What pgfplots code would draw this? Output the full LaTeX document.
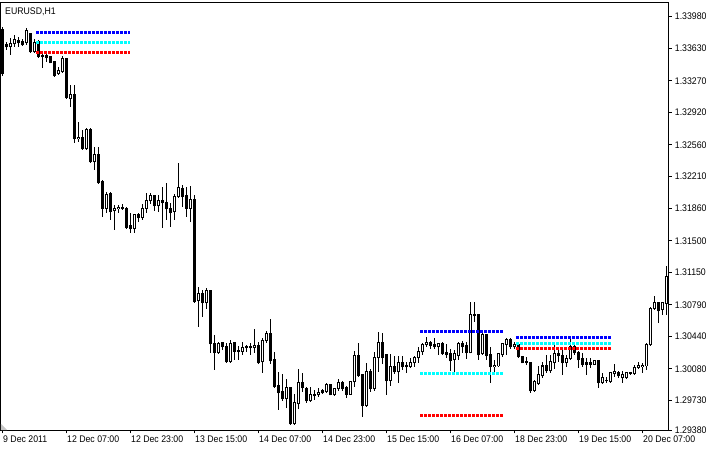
\documentclass[border=0pt]{standalone}
\usepackage{fontspec}
\setmainfont{Liberation Sans}[FakeStretch=0.91]
\usepackage{pgfplots}
\usepackage{pgfplotstable}
\pgfplotsset{compat=1.18}

% EURUSD H1 bars: index, open, high, low, close
\pgfplotstableread{
i o h l c
0 1.33833 1.33866 1.33324 1.33346
1 1.33667 1.33700 1.33612 1.33645
2 1.33645 1.33744 1.33556 1.33678
3 1.33678 1.33778 1.33645 1.33722
4 1.33711 1.33755 1.33645 1.33689
5 1.33700 1.33733 1.33656 1.33667
6 1.33689 1.33855 1.33667 1.33822
7 1.33789 1.33800 1.33578 1.33589
8 1.33589 1.33733 1.33578 1.33689
9 1.33700 1.33722 1.33528 1.33534
10 1.33545 1.33578 1.33412 1.33534
11 1.33545 1.33567 1.33479 1.33528
12 1.33534 1.33540 1.33462 1.33468
13 1.33479 1.33490 1.33313 1.33324
14 1.33346 1.33423 1.33335 1.33379
15 1.33368 1.33545 1.33357 1.33512
16 1.33512 1.33523 1.33069 1.33080
17 1.33069 1.33224 1.32981 1.33113
18 1.33113 1.33224 1.32582 1.32626
19 1.32626 1.32815 1.32593 1.32648
20 1.32648 1.32726 1.32505 1.32516
21 1.32516 1.32748 1.32505 1.32726
22 1.32726 1.32748 1.32361 1.32372
23 1.32372 1.32538 1.32283 1.32449
24 1.32449 1.32538 1.32128 1.32139
25 1.32150 1.32172 1.31763 1.31862
26 1.31862 1.32040 1.31807 1.32017
27 1.32028 1.32040 1.31730 1.31818
28 1.31829 1.31896 1.31619 1.31862
29 1.31851 1.31896 1.31807 1.31873
30 1.31873 1.31907 1.31840 1.31851
31 1.31862 1.31873 1.31630 1.31641
32 1.31663 1.31807 1.31586 1.31630
33 1.31630 1.31796 1.31586 1.31785
34 1.31785 1.31807 1.31707 1.31752
35 1.31752 1.31907 1.31730 1.31862
36 1.31862 1.32028 1.31807 1.31940
37 1.31940 1.32028 1.31907 1.31995
38 1.31995 1.32006 1.31829 1.31885
39 1.31885 1.32006 1.31818 1.31940
40 1.31940 1.32095 1.31641 1.31918
41 1.31918 1.32139 1.31730 1.31851
42 1.31851 1.31918 1.31652 1.31807
43 1.31818 1.32017 1.31730 1.31984
44 1.31984 1.32361 1.31973 1.32084
45 1.32073 1.32117 1.31873 1.31984
46 1.31995 1.32095 1.31763 1.31862
47 1.31862 1.32106 1.31707 1.31951
48 1.31951 1.32006 1.30811 1.30822
49 1.30833 1.30988 1.30545 1.30921
50 1.30921 1.30955 1.30656 1.30811
51 1.30811 1.30977 1.30744 1.30944
52 1.30944 1.30955 1.30257 1.30357
53 1.30357 1.30457 1.30069 1.30257
54 1.30257 1.30379 1.30246 1.30357
55 1.30368 1.30379 1.30290 1.30324
56 1.30324 1.30368 1.30147 1.30158
57 1.30158 1.30401 1.30147 1.30357
58 1.30368 1.30379 1.30180 1.30279
59 1.30279 1.30335 1.30180 1.30290
60 1.30279 1.30379 1.30235 1.30313
61 1.30313 1.30346 1.30268 1.30324
62 1.30324 1.30368 1.30235 1.30313
63 1.30313 1.30523 1.30257 1.30335
64 1.30335 1.30379 1.30135 1.30147
65 1.30158 1.30423 1.30036 1.30390
66 1.30390 1.30501 1.30368 1.30468
67 1.30468 1.30634 1.30135 1.30169
68 1.30180 1.30268 1.29870 1.29881
69 1.29892 1.30047 1.29626 1.29815
70 1.29826 1.30025 1.29726 1.29748
71 1.29748 1.29969 1.29648 1.29870
72 1.29870 1.29881 1.29460 1.29471
73 1.29471 1.29803 1.29460 1.29704
74 1.29693 1.30080 1.29637 1.29925
75 1.29925 1.30036 1.29826 1.29870
76 1.29859 1.29881 1.29704 1.29726
77 1.29726 1.29881 1.29715 1.29792
78 1.29781 1.29848 1.29737 1.29792
79 1.29792 1.29870 1.29770 1.29815
80 1.29837 1.29859 1.29803 1.29815
81 1.29826 1.29925 1.29815 1.29903
82 1.29903 1.29908 1.29787 1.29792
83 1.29792 1.29870 1.29781 1.29859
84 1.29859 1.29969 1.29837 1.29925
85 1.29925 1.29947 1.29837 1.29859
86 1.29870 1.29892 1.29759 1.29803
87 1.29803 1.29947 1.29792 1.29936
88 1.29936 1.30279 1.29881 1.30224
89 1.30224 1.30368 1.29992 1.30003
90 1.30014 1.30025 1.29549 1.29671
91 1.29671 1.30147 1.29660 1.30047
92 1.30047 1.30080 1.29826 1.29859
93 1.29859 1.30268 1.29837 1.30202
94 1.30202 1.30490 1.30047 1.30368
95 1.30368 1.30479 1.30135 1.30202
96 1.30235 1.30241 1.29792 1.29947
97 1.29947 1.30246 1.29892 1.30102
98 1.30102 1.30224 1.30025 1.30047
99 1.30047 1.30224 1.29925 1.30147
100 1.30147 1.30224 1.30069 1.30102
101 1.30102 1.30158 1.30036 1.30113
102 1.30102 1.30202 1.30091 1.30147
103 1.30147 1.30224 1.30102 1.30202
104 1.30202 1.30324 1.30147 1.30279
105 1.30268 1.30368 1.30235 1.30346
106 1.30346 1.30434 1.30324 1.30368
107 1.30368 1.30390 1.30302 1.30335
108 1.30346 1.30423 1.30302 1.30324
109 1.30324 1.30368 1.30235 1.30357
110 1.30357 1.30379 1.30235 1.30246
111 1.30257 1.30357 1.30202 1.30235
112 1.30246 1.30302 1.30058 1.30169
113 1.30180 1.30290 1.30047 1.30246
114 1.30224 1.30379 1.30180 1.30357
115 1.30357 1.30390 1.30257 1.30324
116 1.30335 1.30379 1.30191 1.30257
117 1.30257 1.30822 1.30252 1.30678
118 1.30678 1.30822 1.30601 1.30667
119 1.30678 1.30689 1.30180 1.30235
120 1.30246 1.30479 1.30235 1.30457
121 1.30457 1.30468 1.30180 1.30224
122 1.30235 1.30324 1.29925 1.30102
123 1.30102 1.30180 1.30047 1.30124
124 1.30113 1.30257 1.30102 1.30246
125 1.30235 1.30368 1.30213 1.30357
126 1.30346 1.30423 1.30235 1.30401
127 1.30401 1.30423 1.30302 1.30324
128 1.30324 1.30379 1.30302 1.30346
129 1.30346 1.30368 1.30202 1.30213
130 1.30213 1.30224 1.30141 1.30147
131 1.30158 1.30213 1.30124 1.30147
132 1.30147 1.30158 1.29815 1.29837
133 1.29837 1.29958 1.29826 1.29936
134 1.29914 1.30113 1.29903 1.30014
135 1.30003 1.30158 1.29981 1.30113
136 1.30113 1.30235 1.30036 1.30058
137 1.30058 1.30235 1.30036 1.30158
138 1.30147 1.30346 1.30080 1.30246
139 1.30246 1.30290 1.30158 1.30224
140 1.30224 1.30324 1.30014 1.30147
141 1.30147 1.30235 1.30102 1.30191
142 1.30191 1.30423 1.30180 1.30324
143 1.30324 1.30346 1.30235 1.30257
144 1.30257 1.30279 1.30091 1.30180
145 1.30191 1.30257 1.30102 1.30135
146 1.30147 1.30202 1.30014 1.30135
147 1.30147 1.30202 1.30091 1.30135
148 1.30135 1.30180 1.30124 1.30169
149 1.30169 1.30174 1.29870 1.29925
150 1.29925 1.30036 1.29919 1.29981
151 1.29947 1.29992 1.29925 1.29958
152 1.29936 1.30047 1.29925 1.30036
153 1.30025 1.30135 1.29992 1.30047
154 1.30036 1.30058 1.29981 1.30003
155 1.29981 1.30058 1.29925 1.30014
156 1.29981 1.30047 1.29969 1.30036
157 1.30025 1.30047 1.30014 1.30036
158 1.30025 1.30124 1.30014 1.30091
159 1.30091 1.30158 1.30080 1.30124
160 1.30102 1.30147 1.30036 1.30124
161 1.30113 1.30368 1.30069 1.30346
162 1.30346 1.30761 1.30335 1.30755
163 1.30755 1.30888 1.30733 1.30811
164 1.30811 1.30822 1.30589 1.30722
165 1.30733 1.30822 1.30678 1.30811
166 1.30800 1.31220 1.30678 1.31099
}\candles

\newcommand\mtfont{\fontsize{9.6bp}{11bp}\selectfont}

\begin{document}
\begin{tikzpicture}
\begin{axis}[
    scale only axis,
    width=668.2bp, height=428bp,
    xmin=-0.375, xmax=166.675,
    ymin=1.29399, ymax=1.34137,
    axis line style={black, line width=1bp},
    tick align=outside,
    major tick length=3bp,
    tick style={black, line width=1bp},
    xtick pos=left, xticklabel pos=left,
    ytick pos=right, yticklabel pos=right,
    xtick={0,16,...,160},
    xticklabels={9 Dec 2011,12 Dec 07:00,12 Dec 23:00,13 Dec 15:00,14 Dec 07:00,14 Dec 23:00,15 Dec 15:00,16 Dec 07:00,18 Dec 23:00,19 Dec 15:00,20 Dec 07:00},
    ytick={1.33980,1.33630,1.33270,1.32920,1.32560,1.32210,1.31860,1.31500,1.31150,1.30790,1.30440,1.30080,1.29730,1.29399},
    yticklabels={1.33980,1.33630,1.33270,1.32920,1.32560,1.32210,1.31860,1.31500,1.31150,1.30790,1.30440,1.30080,1.29730,1.29380},
    ticklabel style={font=\mtfont, inner sep=0pt},
    xticklabel style={anchor=north west, xshift=1bp, yshift=-2.5bp},
    yticklabel style={anchor=west, xshift=3bp},
]
    % wicks
    \addplot[draw=none, mark=none,
        error bars/.cd, y dir=plus, y explicit, error mark=none,
        error bar style={draw=black, line width=1bp}]
        table[x=i, y=l, y error expr={\thisrow{h}-\thisrow{l}}] {\candles};
    % bodies, outline included
    \addplot[draw=none, mark=none,
        error bars/.cd, y dir=plus, y explicit, error mark=none,
        error bar style={draw=black, line width=3bp}]
        table[x=i, y expr={min(\thisrow{o},\thisrow{c})-0.0000553},
              y error expr={abs(\thisrow{c}-\thisrow{o})+0.0001107}] {\candles};
    % hollow inside of rising bars
    \addplot[draw=none, mark=none,
        error bars/.cd, y dir=plus, y explicit, error mark=none,
        error bar style={draw=white, line width=1bp}]
        table[x expr={ifthenelse(\thisrow{c}-\thisrow{o}>0.00012,\thisrow{i},-20)},
              y expr={\thisrow{o}+0.0000553},
              y error expr={max(\thisrow{c}-\thisrow{o}-0.0001107,0)}] {\candles};

    % indicator levels
    \addplot[color={rgb,255:red,0;green,0;blue,255}, line width=2.6bp, dash pattern=on 3bp off 1bp]
        coordinates {(8.5,1.33807) (32,1.33807)};
    \addplot[color={rgb,255:red,0;green,255;blue,255}, line width=2.6bp, dash pattern=on 3bp off 1bp]
        coordinates {(8.5,1.33697) (32,1.33697)};
    \addplot[color={rgb,255:red,255;green,0;blue,0}, line width=2.6bp, dash pattern=on 3bp off 1bp]
        coordinates {(8.5,1.33586) (32,1.33586)};

    \addplot[color={rgb,255:red,0;green,0;blue,255}, line width=2.6bp, dash pattern=on 3bp off 1bp]
        coordinates {(104.5,1.30498) (125.25,1.30498)};
    \addplot[color={rgb,255:red,0;green,255;blue,255}, line width=2.6bp, dash pattern=on 3bp off 1bp]
        coordinates {(104.5,1.30033) (125.25,1.30033)};
    \addplot[color={rgb,255:red,255;green,0;blue,0}, line width=2.6bp, dash pattern=on 3bp off 1bp]
        coordinates {(104.5,1.29568) (125.25,1.29568)};

    \addplot[color={rgb,255:red,0;green,0;blue,255}, line width=2.6bp, dash pattern=on 3bp off 1bp]
        coordinates {(128.5,1.30431) (152.25,1.30431)};
    \addplot[color={rgb,255:red,0;green,255;blue,255}, line width=2.6bp, dash pattern=on 3bp off 1bp]
        coordinates {(128.5,1.30365) (152.25,1.30365)};
    \addplot[color={rgb,255:red,255;green,0;blue,0}, line width=2.6bp, dash pattern=on 3bp off 1bp]
        coordinates {(128.5,1.30309) (152.25,1.30309)};
\end{axis}
% chart title and the small corner marker
\node[anchor=north west, inner sep=0pt, font=\mtfont] at (4.5bp,423.2bp) {EURUSD,H1};
\fill[gray!45] (0.5bp,0.5bp) -- (0.5bp,6.5bp) -- (6.5bp,0.5bp) -- cycle;
\pgfresetboundingbox
\path (-0.5bp,-22.5bp) rectangle (709.5bp,430.5bp);
\end{tikzpicture}
\end{document}
